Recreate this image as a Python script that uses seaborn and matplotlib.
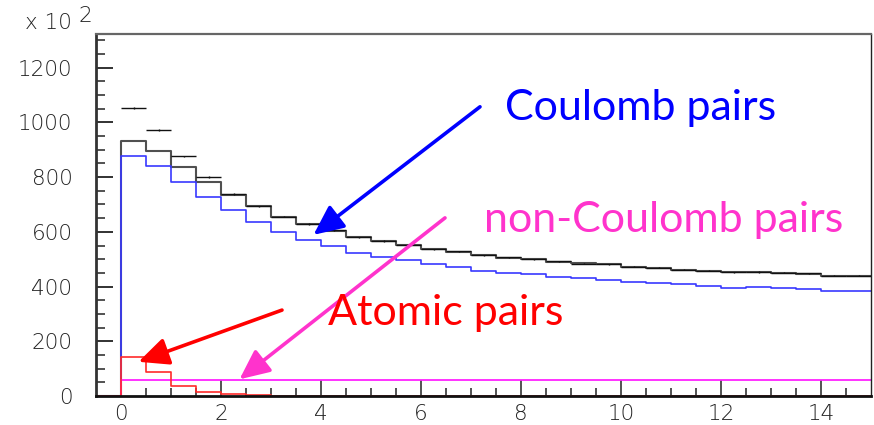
import numpy as np
import pandas as pd
import matplotlib
matplotlib.use("Agg")
import matplotlib.pyplot as plt
import seaborn as sns

# Q distribution (MeV/c), counts in units of 10^2 per 0.5 MeV/c bin
bin_width = 0.5
q_min, q_max = 0.0, 15.0

data_counts = [1053, 971, 876, 800, 738, 693, 655, 629, 605, 580,
               566, 553, 536, 529, 514, 507, 499, 492, 484, 482,
               472, 469, 461, 458, 452, 453, 450, 448, 439, 440]
total_mc = [931, 897, 836, 781, 736, 694, 654, 630, 604, 582,
            567, 552, 537, 528, 515, 506, 500, 491, 485, 481,
            473, 468, 462, 457, 453, 452, 451, 447, 440, 439]
coulomb = [879, 842, 781, 726, 681, 637, 600, 569, 548, 524,
           507, 497, 483, 471, 458, 451, 445, 434, 430, 424,
           417, 413, 408, 401, 396, 397, 394, 391, 385, 384]
atomic = [141, 88, 38, 13, 6, 3, 1, 0, 0, 0,
          0, 0, 0, 0, 0, 0, 0, 0, 0, 0,
          0, 0, 0, 0, 0, 0, 0, 0, 0, 0]
non_coulomb = [58, 58, 58, 58, 58, 58, 58, 58, 58, 58,
               58, 58, 58, 58, 58, 58, 58, 58, 58, 58,
               58, 58, 58, 58, 58, 58, 58, 58, 58, 58]

x_ticks = [0, 2, 4, 6, 8, 10, 12, 14]
y_ticks = [0, 200, 400, 600, 800, 1000, 1200]

sns.set_theme(style="white")
plt.rcParams["font.family"] = ["Lato", "DejaVu Sans"]

edges = list(np.arange(q_min - bin_width, q_max + bin_width / 2, bin_width))
centers = np.arange(q_min, q_max, bin_width) + bin_width / 2
# one empty bin left of zero so each step outline rises from the baseline
plot_centers = np.concatenate([[q_min - bin_width / 2], centers])

fig = plt.figure(figsize=(8.74, 4.25), dpi=100)
ax = fig.add_axes([96 / 874, 1 - 396 / 425, 775 / 874, (396 - 34.3) / 425])

hist_specs = [
    (total_mc, "#505050", 1.5),
    (coulomb, "#3838ff", 1.2),
    (non_coulomb, "#ff22ff", 1.3),
    (atomic, "#ff2a2a", 1.2),
]
for values, color, lw in hist_specs:
    df = pd.DataFrame({"q": plot_centers,
                       "w": np.concatenate([[0.0], values])})
    sns.histplot(data=df, x="q", weights="w", bins=edges, element="step",
                 fill=False, color=color, linewidth=lw, ax=ax)

# measured points: horizontal bar across the bin with a small statistical error
data_arr = np.asarray(data_counts, dtype=float)
ax.errorbar(centers, data_arr, xerr=bin_width / 2,
            yerr=np.sqrt(data_arr * 100) / 100, fmt="none",
            ecolor="#111111", elinewidth=1.0, capsize=0)

ax.set_xlim(q_min - bin_width, q_max)
ax.set_ylim(0, 1322)
ax.set_xlabel("")
ax.set_ylabel("")

ax.set_xticks(x_ticks)
ax.set_xticks(np.arange(q_min, q_max, bin_width), minor=True)
ax.set_yticks(y_ticks)
ax.set_yticks(np.arange(0, 1321, 50), minor=True)
ax.set_xticklabels([str(t) for t in x_ticks])
ax.set_yticklabels([str(t) for t in y_ticks])

tick_family = ["DejaVu Sans"]
tick_size = 15.5
tick_color = "#222222"
for lab in ax.get_xticklabels() + ax.get_yticklabels():
    lab.set_fontfamily(tick_family)
    lab.set_fontweight("light")
    lab.set_fontsize(tick_size)
    lab.set_color(tick_color)

ax.tick_params(axis="x", which="major", direction="in", length=11.5,
               width=1.3, color="#444444", pad=6, bottom=True, top=False)
ax.tick_params(axis="x", which="minor", direction="in", length=5.5,
               width=1.3, color="#444444", bottom=True, top=False)
ax.tick_params(axis="y", which="major", direction="in", length=12.5,
               width=1.3, color="#222222", pad=17, left=True, right=False)
ax.tick_params(axis="y", which="minor", direction="in", length=6.5,
               width=1.3, color="#444444", left=True, right=False)

for side, (c, w) in {"left": ("#333333", 2.0), "bottom": ("#111111", 2.0),
                     "top": ("#666666", 1.6), "right": ("#222222", 1.0)}.items():
    ax.spines[side].set_visible(True)
    ax.spines[side].set_color(c)
    ax.spines[side].set_linewidth(w)

# scale factor of the y axis
fig.text(25 / 874, 1 - 29 / 425, "x 10", family=tick_family, weight="light",
         size=tick_size, color=tick_color, ha="left", va="baseline")
fig.text(78 / 874, 1 - 21.7 / 425, "2", family=tick_family, weight="light",
         size=tick_size, color=tick_color, ha="left", va="baseline")

# tail of the slide title lettering above the plot
fig.text(0.793, 1.022, "y", color="#4a7cc4", size=28, ha="left",
         va="baseline")

head = "-|>,head_length=1.3,head_width=0.6"
arrow_base = dict(lw=2.6, shrinkA=0, shrinkB=0, mutation_scale=14)
label_size = 31

ax.annotate("", xy=(3.85, 589), xytext=(7.18, 1057),
            arrowprops=dict(arrowstyle=head, color="#0000ff", **arrow_base))
ax.text(7.68, 1009, "Coulomb pairs", color="#0000ff", size=label_size,
        ha="left", va="baseline")

ax.annotate("", xy=(2.37, 61), xytext=(6.48, 651),
            arrowprops=dict(arrowstyle=head, color="#ff33cc", **arrow_base))
ax.text(7.25, 600, "non-Coulomb pairs", color="#ff33cc", size=label_size,
        ha="left", va="baseline")

ax.annotate("", xy=(0.35, 125), xytext=(3.22, 314),
            arrowprops=dict(arrowstyle=head, color="#ff0000", **arrow_base))
ax.text(4.13, 259, "Atomic pairs", color="#ff0000", size=label_size,
        ha="left", va="baseline")

fig.savefig("out.png", dpi=100)
